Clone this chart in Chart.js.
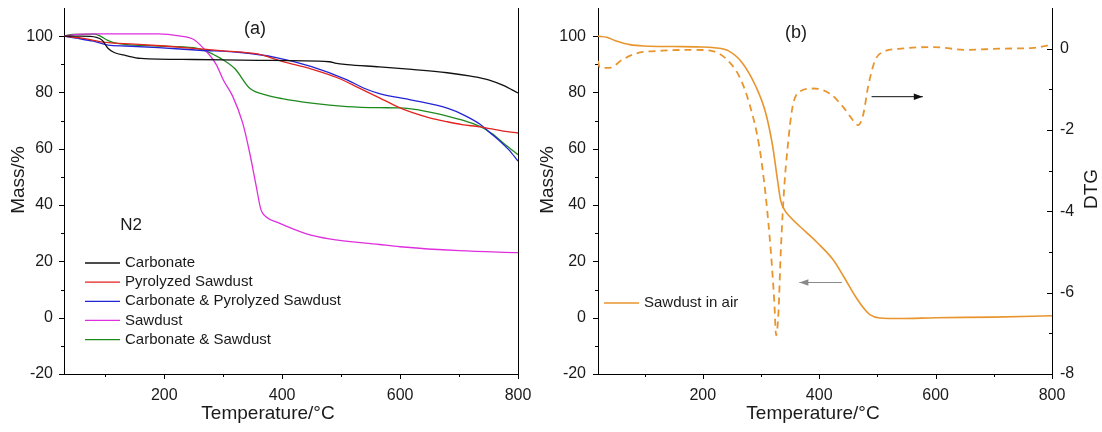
<!DOCTYPE html>
<html>
<head>
<meta charset="utf-8">
<script src="https://cdn.jsdelivr.net/npm/chart.js@4.4.1/dist/chart.umd.min.js"></script>
<style>
  html, body { margin: 0; padding: 0; background: #fff; }
  #wrap { position: relative; width: 1102px; height: 432px; overflow: hidden; }
  #wrap canvas { position: absolute; top: 0; }
</style>
</head>
<body>
<div id="wrap">
  <canvas id="tgaN2" width="545" height="432" style="left:0"></canvas>
  <canvas id="tgaAir" width="572" height="432" style="left:530px"></canvas>
</div>
<script>
var FONT = '"Liberation Sans", Arial, sans-serif';
var INK = '#1a1a1a';

// (a) TGA under N2: [temperature °C, mass %]
var carbonate = [[30,100],[60,100],[85,99.6],[95,98.5],[105,95.6],[115,94.2],[135,93.1],[160,92.1],
  [250,91.7],[360,91.4],[480,90.9],[492,90.3],[510,89.9],[565,89.1],[620,88.2],[680,87],
  [720,85.8],[750,84.5],[775,82.5],[800,79.8]];
var pyrolyzedSawdust = [[30,100],[60,99.3],[100,97.8],[150,97.2],[200,96.5],[260,95.5],[300,94.8],
  [360,93.6],[400,91],[450,88.3],[500,84.7],[530,81.6],[565,78.1],[595,75],[620,72.9],[650,71],
  [680,69.6],[705,68.6],[735,67.8],[775,66.3],[800,65.6]];
var carbonatePyrolyzed = [[30,100],[50,99.3],[80,98.2],[105,96.8],[135,96.5],[190,95.9],[260,95],
  [330,94.2],[390,92.4],[450,89.2],[510,84.5],[540,81.4],[565,79.6],[620,77.3],[680,74.4],
  [710,71.8],[735,68.8],[752,65.8],[770,62.6],[785,59.5],[800,55.6]];
var sawdust = [[30,100],[50,100.6],[80,100.8],[190,100.8],[225,100.1],[250,98.8],[265,96],[288,90],
  [300,84.5],[316,78.7],[333,69.2],[345,58.5],[356,46.7],[364,38.4],[373,35.8],[395,33.6],
  [440,29.9],[480,28],[565,26],[600,25.2],[700,23.8],[800,23.1]];
var carbonateSawdust = [[30,100],[45,100.6],[80,100.7],[90,100.2],[105,98.4],[120,97.4],[190,96.5],
  [250,95.9],[270,94.8],[295,92.2],[320,88.4],[345,81.5],[375,79],[400,77.8],[450,76.2],[510,75],
  [565,74.6],[600,74.5],[625,74],[650,73],[680,71.6],[710,69.9],[735,68],[757,65.2],[778,61.5],[800,57.9]];

// (b) sawdust in air: mass % and DTG
var sawdustAirMass = [[20,100],[35,99.6],[50,98.4],[75,97],[100,96.5],[150,96.3],[190,96.2],[220,95.9],
  [245,94.7],[268,90.5],[291,82.2],[308,72.8],[320,61],[328,49.5],[334,41.5],[340,38.5],[349,36],
  [377,30.5],[396,26.8],[424,20.6],[441,15],[464,7],[478,3],[487,1.1],[504,-0.1],[540,-0.3],
  [600,0],[700,0.2],[800,0.7]];
var sawdustAirDtg = [[20,-0.3],[23,-0.47],[40,-0.47],[62,-0.27],[85,-0.12],[130,-0.05],[188,-0.03],
  [217,-0.06],[240,-0.25],[263,-0.69],[280,-1.35],[297,-2.4],[308,-3.6],[317,-5.0],[323,-6.25],
  [326,-7.05],[330,-6.5],[334,-5.0],[340,-3.4],[346,-2.4],[354,-1.45],[366,-1.06],[390,-0.98],
  [418,-1.1],[441,-1.43],[458,-1.76],[467,-1.88],[476,-1.6],[484,-0.94],[496,-0.29],[510,-0.08],
  [540,0],[596,0.04],[653,-0.03],[710,0],[768,0.02],[800,0.1]];

// arrows pointing each curve to its axis, in (°C, mass %)
var arrowToDtg = [[490, 78.5], [578, 78.5]];
var arrowToMass = [[439, 12.5], [366, 12.5]];

Chart.defaults.font.family = FONT;
Chart.defaults.font.size = 16;
Chart.defaults.color = INK;

function pts(rows) {
  return rows.map(function (r) { return { x: r[0], y: r[1] }; });
}

function series(label, rows, color, extra) {
  var ds = {
    label: label,
    data: pts(rows),
    borderColor: color,
    backgroundColor: color,
    borderWidth: 1.3,
    pointRadius: 0,
    fill: false,
    cubicInterpolationMode: 'monotone'
  };
  return Object.assign(ds, extra || {});
}

function every(n) {
  return function (v) { return Math.abs(v % n) < 1e-9 ? v : ''; };
}

// pin an axis to a fixed thickness so both panels line up
function fixWidth(w) {
  return function (s) { s.width = w; s.paddingTop = 0; s.paddingBottom = 0; };
}
function fixHeight(h) {
  return function (s) { s.height = h; s.paddingLeft = 0; s.paddingRight = 0; };
}

// tick marks come from the tickMarks plugin, so the built-in ones are off
var noGrid = { display: false, drawTicks: false };
var axisLine = { display: true, color: '#000', width: 1 };

function xAxis(min) {
  return {
    type: 'linear', position: 'bottom', min: min, max: 800,
    afterFit: fixHeight(58),
    border: axisLine,
    grid: noGrid,
    ticks: { stepSize: 100, includeBounds: false, autoSkip: false, maxRotation: 0,
      padding: 12, callback: every(200) }
  };
}

function massAxis(width, pad) {
  return {
    type: 'linear', position: 'left', min: -20, max: 110,
    afterFit: fixWidth(width),
    border: axisLine,
    grid: noGrid,
    ticks: { stepSize: 10, includeBounds: false, autoSkip: false, padding: pad, callback: every(20) }
  };
}

// short tick marks: major ones longer, dir -1/+1 picks the side
var tickMarks = {
  id: 'tickMarks',
  afterDraw: function (chart, args, opts) {
    var ctx = chart.ctx;
    ctx.save();
    ctx.strokeStyle = '#000';
    ctx.lineWidth = 1;
    (opts.axes || []).forEach(function (a) {
      var scale = chart.scales[a.id];
      scale.ticks.forEach(function (t) {
        if (t.value === scale.max && !scale.isHorizontal()) return;
        var len = Math.abs(t.value % a.major) < 1e-9 ? 5 : 3;
        var p = Math.round(scale.getPixelForValue(t.value)) + 0.5;
        ctx.beginPath();
        if (scale.isHorizontal()) {
          ctx.moveTo(p, scale.top);
          ctx.lineTo(p, scale.top + len * a.dir);
        } else {
          var x0 = scale.position === 'left' ? scale.right : scale.left;
          ctx.moveTo(x0, p);
          ctx.lineTo(x0 + len * a.dir, p);
        }
        ctx.stroke();
      });
    });
    ctx.restore();
  }
};

// titles, panel letters and notes
var panelText = {
  id: 'panelText',
  afterDraw: function (chart, args, opts) {
    var ctx = chart.ctx;
    (opts.items || []).forEach(function (it) {
      ctx.save();
      ctx.font = it.size + 'px ' + FONT;
      ctx.fillStyle = INK;
      ctx.textAlign = 'center';
      ctx.textBaseline = 'middle';
      ctx.translate(it.x, it.y);
      if (it.angle) ctx.rotate(it.angle * Math.PI / 180);
      ctx.fillText(it.text, 0, 0);
      ctx.restore();
    });
  }
};

// legend drawn inside the plot area
var inlineLegend = {
  id: 'inlineLegend',
  afterDraw: function (chart, args, opts) {
    var ctx = chart.ctx;
    var rows = chart.data.datasets.filter(function (ds) { return ds.inLegend !== false; });
    ctx.save();
    ctx.font = opts.size + 'px ' + FONT;
    ctx.textBaseline = 'middle';
    rows.forEach(function (ds, i) {
      var y = opts.y + i * opts.step;
      ctx.strokeStyle = ds.borderColor;
      ctx.lineWidth = ds.borderWidth;
      ctx.setLineDash(ds.borderDash || []);
      ctx.beginPath();
      ctx.moveTo(opts.x, y);
      ctx.lineTo(opts.x + opts.sample, y);
      ctx.stroke();
      ctx.fillStyle = INK;
      ctx.fillText(ds.label, opts.x + opts.sample + opts.gap, y);
    });
    ctx.restore();
  }
};

var arrows = {
  id: 'arrows',
  afterDraw: function (chart, args, opts) {
    var ctx = chart.ctx, sx = chart.scales.x, sy = chart.scales.y;
    (opts.items || []).forEach(function (a) {
      var x0 = sx.getPixelForValue(a.from[0]), y0 = sy.getPixelForValue(a.from[1]);
      var x1 = sx.getPixelForValue(a.to[0]), y1 = sy.getPixelForValue(a.to[1]);
      var ang = Math.atan2(y1 - y0, x1 - x0);
      ctx.save();
      ctx.strokeStyle = a.color;
      ctx.fillStyle = a.color;
      ctx.lineWidth = 1;
      ctx.beginPath();
      ctx.moveTo(x0, y0);
      ctx.lineTo(x1, y1);
      ctx.stroke();
      ctx.translate(x1, y1);
      ctx.rotate(ang);
      ctx.beginPath();
      ctx.moveTo(0, 0);
      ctx.lineTo(-9, -3.2);
      ctx.lineTo(-9, 3.2);
      ctx.closePath();
      ctx.fill();
      ctx.restore();
    });
  }
};

var common = {
  responsive: false,
  animation: false,
  events: [],
  layout: { padding: { top: 8, left: 0, right: 0, bottom: 0 } },
  elements: { line: { tension: 0 } }
};

new Chart(document.getElementById('tgaN2'), {
  type: 'line',
  data: {
    datasets: [
      series('Carbonate', carbonate, '#111111'),
      series('Pyrolyzed Sawdust', pyrolyzedSawdust, '#e2231f'),
      series('Carbonate & Pyrolyzed Sawdust', carbonatePyrolyzed, '#2323d6'),
      series('Sawdust', sawdust, '#de2fde'),
      series('Carbonate & Sawdust', carbonateSawdust, '#1e8a1e')
    ]
  },
  options: Object.assign({}, common, {
    scales: {
      x: xAxis(30),
      y: massAxis(64, 11),
      edge: {
        type: 'linear', position: 'right', min: -20, max: 110,
        afterFit: fixWidth(27),
        border: axisLine,
        grid: noGrid,
        ticks: { display: false }
      }
    },
    plugins: {
      legend: { display: false },
      tooltip: { enabled: false },
      tickMarks: { axes: [{ id: 'x', major: 200, dir: 1 }, { id: 'y', major: 20, dir: -1 }] },
      inlineLegend: { x: 85, y: 263, step: 19.15, sample: 35, gap: 5, size: 15 },
      panelText: { items: [
        { text: 'Mass/%', x: 19, y: 180, size: 19, angle: -90 },
        { text: 'Temperature/°C', x: 268, y: 414, size: 19 },
        { text: '(a)', x: 255, y: 29, size: 18 },
        { text: 'N2', x: 131, y: 225, size: 17 }
      ] }
    }
  }),
  plugins: [tickMarks, inlineLegend, panelText]
});

new Chart(document.getElementById('tgaAir'), {
  type: 'line',
  data: {
    datasets: [
      series('Sawdust in air', sawdustAirMass, '#e8952e', { borderWidth: 1.6 }),
      series('DTG', sawdustAirDtg, '#e8952e',
        { yAxisID: 'dtg', borderWidth: 1.8, borderDash: [7, 5], inLegend: false })
    ]
  },
  options: Object.assign({}, common, {
    scales: {
      x: xAxis(20),
      y: massAxis(68, 12),
      dtg: {
        type: 'linear', position: 'right', min: -8, max: 1,
        afterFit: fixWidth(50),
        border: axisLine,
        grid: noGrid,
        ticks: { stepSize: 1, includeBounds: false, autoSkip: false, padding: 8, callback: every(2) }
      }
    },
    plugins: {
      legend: { display: false },
      tooltip: { enabled: false },
      tickMarks: { axes: [
        { id: 'x', major: 200, dir: 1 },
        { id: 'y', major: 20, dir: -1 },
        { id: 'dtg', major: 2, dir: -1 }
      ] },
      inlineLegend: { x: 74, y: 303, step: 19, sample: 35, gap: 5, size: 15 },
      arrows: { items: [
        { from: arrowToDtg[0], to: arrowToDtg[1], color: '#111111' },
        { from: arrowToMass[0], to: arrowToMass[1], color: '#8a8a8a' }
      ] },
      panelText: { items: [
        { text: 'Mass/%', x: 18, y: 180, size: 19, angle: -90 },
        { text: 'DTG', x: 562, y: 189, size: 19, angle: -90 },
        { text: 'Temperature/°C', x: 283, y: 414, size: 19 },
        { text: '(b)', x: 266, y: 33, size: 18 }
      ] }
    }
  }),
  plugins: [tickMarks, inlineLegend, arrows, panelText]
});
</script>
</body>
</html>
